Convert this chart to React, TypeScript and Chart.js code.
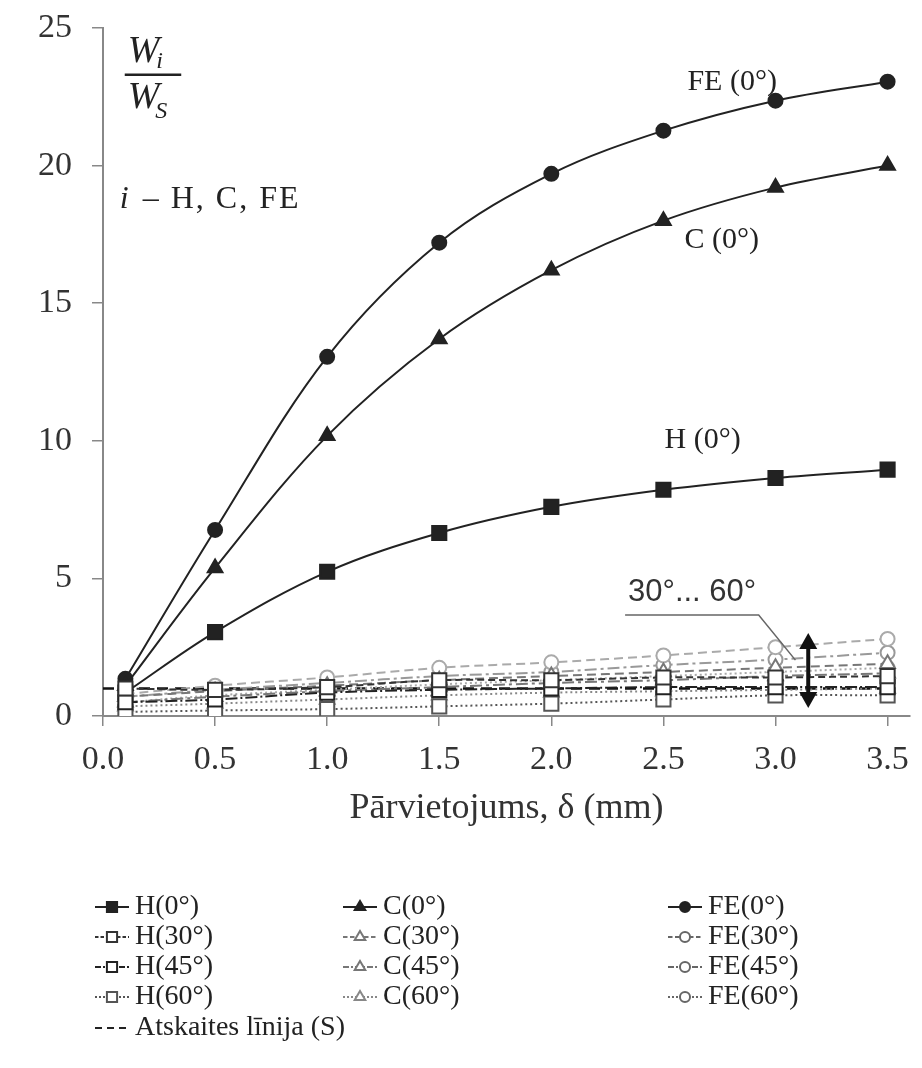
import React, { useEffect, useRef } from "react";
import { Chart, registerables } from "chart.js";

Chart.register(...registerables);

// ---- data ----
const xValues = [0.1, 0.5, 1.0, 1.5, 2.0, 2.5, 3.0, 3.5];
const xTickLabels = ["0.0", "0.5", "1.0", "1.5", "2.0", "2.5", "3.0", "3.5"];
const yTickValues = [0, 5, 10, 15, 20, 25];

const h0 = [0.85, 3.05, 5.24, 6.65, 7.6, 8.22, 8.65, 8.95];
const h30 = [1.0, 0.95, 1.05, 1.3, 1.3, 1.4, 1.4, 1.45];
const h45 = [0.5, 0.6, 0.85, 0.95, 1.0, 1.05, 1.05, 1.05];
const h60 = [0.15, 0.2, 0.25, 0.35, 0.45, 0.6, 0.75, 0.75];

const c0 = [1.1, 5.38, 10.18, 13.7, 16.2, 18.0, 19.2, 20.0];
const c30 = [0.7, 0.9, 1.1, 1.3, 1.45, 1.6, 1.75, 1.9];
const c45 = [0.5, 0.7, 0.9, 1.05, 1.2, 1.3, 1.45, 1.55];
const c60 = [0.35, 0.45, 0.6, 0.75, 0.85, 0.9, 0.95, 1.0];

const fe0 = [1.35, 6.76, 13.05, 17.2, 19.7, 21.27, 22.36, 23.05];
const fe30 = [0.8, 1.1, 1.4, 1.75, 1.95, 2.2, 2.5, 2.8];
const fe45 = [0.7, 0.95, 1.2, 1.45, 1.6, 1.85, 2.05, 2.3];
const fe60 = [0.5, 0.75, 0.95, 1.15, 1.3, 1.45, 1.6, 1.75];

const refX = [0, 3.5];
const refY = [1, 1];

const xTitle = "Pārvietojums, δ (mm)";

// ---- series styling ----
type Series = {
  label: string;
  values: number[];
  color: string;
  dash: number[];
  shape: "rect" | "triangle" | "circle";
  filled: boolean;
  col: number;
  row: number;
  width: number;
};

const series: Series[] = [
  { label: "H(0°)", values: h0, color: "#222", dash: [], shape: "rect", filled: true, col: 0, row: 0, width: 2 },
  { label: "H(30°)", values: h30, color: "#333", dash: [7, 4], shape: "rect", filled: false, col: 0, row: 1, width: 2 },
  { label: "H(45°)", values: h45, color: "#222", dash: [12, 3, 2, 3], shape: "rect", filled: false, col: 0, row: 2, width: 2 },
  { label: "H(60°)", values: h60, color: "#555", dash: [2, 3], shape: "rect", filled: false, col: 0, row: 3, width: 2 },
  { label: "C(0°)", values: c0, color: "#222", dash: [], shape: "triangle", filled: true, col: 1, row: 0, width: 2 },
  { label: "C(30°)", values: c30, color: "#777", dash: [9, 5], shape: "triangle", filled: false, col: 1, row: 1, width: 2 },
  { label: "C(45°)", values: c45, color: "#777", dash: [12, 4, 3, 4], shape: "triangle", filled: false, col: 1, row: 2, width: 2 },
  { label: "C(60°)", values: c60, color: "#888", dash: [2, 3], shape: "triangle", filled: false, col: 1, row: 3, width: 2 },
  { label: "FE(0°)", values: fe0, color: "#222", dash: [], shape: "circle", filled: true, col: 2, row: 0, width: 2 },
  { label: "FE(30°)", values: fe30, color: "#aaa", dash: [9, 5], shape: "circle", filled: false, col: 2, row: 1, width: 2 },
  { label: "FE(45°)", values: fe45, color: "#999", dash: [12, 4, 3, 4], shape: "circle", filled: false, col: 2, row: 2, width: 2 },
  { label: "FE(60°)", values: fe60, color: "#aaa", dash: [2, 3], shape: "circle", filled: false, col: 2, row: 3, width: 2 },
];

const refLabel = "Atskaites līnija (S)";

// annotation labels in data units
const curveLabels = [
  { text: "FE (0°)", x: 2.607, y: 23.04 },
  { text: "C (0°)", x: 2.594, y: 17.3 },
  { text: "H (0°)", x: 2.505, y: 10.03 },
];
const rangeLabel = { text: "30°... 60°", x: 2.342, y: 4.5 };
const leaderX = [2.329, 2.925, 3.089];
const leaderY = [3.67, 3.67, 2.03];
const arrowX = 3.146;
const arrowY = [3.02, 0.29];

const legendColX = [95, 343, 668];
const legendRowY = [907, 937, 967, 997, 1028];

const SERIF = "'Liberation Serif', 'Times New Roman', serif";
const SANS = "'Liberation Sans', Arial, sans-serif";

const pointRadius = { rect: 10, triangle: 8.5, circle: 7 };

function drawMarker(ctx: CanvasRenderingContext2D, shape: string, cx: number, cy: number, r: number, color: string, filled: boolean) {
  ctx.save();
  ctx.setLineDash([]);
  ctx.lineWidth = 2;
  ctx.strokeStyle = color;
  ctx.fillStyle = filled ? color : "#fff";
  ctx.beginPath();
  if (shape === "rect") {
    const s = r * Math.SQRT1_2;
    ctx.rect(cx - s, cy - s, 2 * s, 2 * s);
  } else if (shape === "triangle") {
    ctx.moveTo(cx, cy - r);
    ctx.lineTo(cx + r * 0.866, cy + r * 0.5);
    ctx.lineTo(cx - r * 0.866, cy + r * 0.5);
    ctx.closePath();
  } else {
    ctx.arc(cx, cy, r, 0, Math.PI * 2);
  }
  ctx.fill();
  ctx.stroke();
  ctx.restore();
}

const whiteBg = {
  id: "whiteBg",
  beforeDraw(chart: any) {
    const { ctx, width, height } = chart;
    ctx.save();
    ctx.fillStyle = "#fff";
    ctx.fillRect(0, 0, width, height);
    ctx.restore();
  },
};

const annotations = {
  id: "annotations",
  afterDraw(chart: any) {
    const { ctx } = chart;
    const xs = chart.scales.x;
    const ys = chart.scales.y;
    const px = (v: number) => xs.getPixelForValue(v);
    const py = (v: number) => ys.getPixelForValue(v);
    ctx.save();
    ctx.fillStyle = "#222";
    ctx.textBaseline = "middle";
    ctx.textAlign = "left";

    // curve labels
    ctx.font = `30px ${SERIF}`;
    curveLabels.forEach((l) => ctx.fillText(l.text, px(l.x), py(l.y)));

    // fraction W_i / W_S
    const fx = px(0.11);
    ctx.font = `italic 38px ${SERIF}`;
    ctx.fillText("W", fx, py(24.13));
    const wWidth = ctx.measureText("W").width;
    ctx.font = `italic 24px ${SERIF}`;
    ctx.fillText("i", fx + wWidth - 3, py(24.13) + 10);
    ctx.font = `italic 38px ${SERIF}`;
    ctx.fillText("W", fx, py(22.46));
    ctx.font = `italic 24px ${SERIF}`;
    ctx.fillText("S", fx + wWidth - 4, py(22.46) + 14);
    ctx.strokeStyle = "#222";
    ctx.lineWidth = 2.5;
    ctx.beginPath();
    ctx.moveTo(px(0.097), py(23.3));
    ctx.lineTo(px(0.349), py(23.3));
    ctx.stroke();

    // i – H, C, FE
    ctx.font = `italic 32px ${SERIF}`;
    const iy = py(18.75);
    let ix = px(0.075);
    ctx.fillText("i", ix, iy);
    ix += ctx.measureText("i").width + 14;
    ctx.font = `32px ${SERIF}`;
    (ctx as any).letterSpacing = "2px";
    ctx.fillText("– H, C, FE", ix, iy);
    (ctx as any).letterSpacing = "0px";

    // range label + leader
    ctx.font = `31px ${SANS}`;
    ctx.fillStyle = "#333";
    ctx.fillText(rangeLabel.text, px(rangeLabel.x), py(rangeLabel.y));
    ctx.strokeStyle = "#666";
    ctx.lineWidth = 1.5;
    ctx.beginPath();
    leaderX.forEach((v, i) => {
      if (i === 0) ctx.moveTo(px(v), py(leaderY[i]));
      else ctx.lineTo(px(v), py(leaderY[i]));
    });
    ctx.stroke();

    // double arrow
    const ax = px(arrowX);
    const aTop = py(arrowY[0]);
    const aBot = py(arrowY[1]);
    ctx.strokeStyle = "#111";
    ctx.fillStyle = "#111";
    ctx.lineWidth = 4;
    ctx.beginPath();
    ctx.moveTo(ax, aTop + 12);
    ctx.lineTo(ax, aBot - 12);
    ctx.stroke();
    ctx.beginPath();
    ctx.moveTo(ax, aTop);
    ctx.lineTo(ax - 9, aTop + 16);
    ctx.lineTo(ax + 9, aTop + 16);
    ctx.closePath();
    ctx.fill();
    ctx.beginPath();
    ctx.moveTo(ax, aBot);
    ctx.lineTo(ax - 9, aBot - 16);
    ctx.lineTo(ax + 9, aBot - 16);
    ctx.closePath();
    ctx.fill();

    // legend
    ctx.textBaseline = "middle";
    ctx.font = `28px ${SERIF}`;
    const drawSample = (x0: number, y: number, color: string, dash: number[]) => {
      ctx.save();
      ctx.strokeStyle = color;
      ctx.lineWidth = 2;
      ctx.setLineDash(dash);
      ctx.beginPath();
      ctx.moveTo(x0, y);
      ctx.lineTo(x0 + 34, y);
      ctx.stroke();
      ctx.restore();
    };
    series.forEach((s) => {
      const x0 = legendColX[s.col];
      const y = legendRowY[s.row];
      const lc = s.color === "#aaa" || s.color === "#999" ? "#666" : s.color;
      const legendDash = s.dash.length ? s.dash.map((d) => Math.max(2, d * 0.5)) : [];
      drawSample(x0, y, lc, legendDash);
      drawMarker(ctx, s.shape, x0 + 17, y, pointRadius[s.shape] * 0.72, lc, s.filled);
      ctx.fillStyle = "#222";
      ctx.fillText(s.label, x0 + 40, y);
    });
    const ry = legendRowY[4];
    drawSample(legendColX[0], ry, "#222", [7, 5]);
    ctx.fillStyle = "#222";
    ctx.fillText(refLabel, legendColX[0] + 40, ry);

    ctx.restore();
  },
};

export default function App() {
  const ref = useRef<HTMLCanvasElement>(null);
  useEffect(() => {
    const datasets: any[] = series.map((s) => ({
      label: s.label,
      data: xValues.map((x, i) => ({ x, y: s.values[i] })),
      borderColor: s.color,
      borderWidth: s.width,
      borderDash: s.dash,
      backgroundColor: s.filled ? s.color : "#fff",
      pointBackgroundColor: s.filled ? s.color : "#fff",
      pointBorderColor: s.color,
      pointBorderWidth: 2,
      pointStyle: s.shape,
      pointRadius: pointRadius[s.shape],
      tension: 0.35,
      fill: false,
    }));
    datasets.push({
      label: refLabel,
      data: refX.map((x, i) => ({ x, y: refY[i] })),
      borderColor: "#111",
      borderWidth: 2.5,
      borderDash: [11, 7],
      pointRadius: 0,
      fill: false,
    });
    const main = ["H(0°)", "C(0°)", "FE(0°)"];
    const ordered = [
      ...datasets.filter((d) => !main.includes(d.label)),
      ...datasets.filter((d) => main.includes(d.label)),
    ];

    const chart = new Chart(ref.current as HTMLCanvasElement, {
      type: "line",
      data: { datasets: ordered },
      options: {
        responsive: false,
        animation: false,
        devicePixelRatio: 1,
        layout: { padding: { top: 28, right: 4, left: 0, bottom: 238 } },
        plugins: { legend: { display: false }, tooltip: { enabled: false } },
        scales: {
          x: {
            type: "linear",
            min: 0,
            max: 3.6,
            afterFit: (s: any) => {
              s.height = 114;
              s.paddingLeft = 0;
              s.paddingRight = 0;
            },
            afterBuildTicks: (s: any) => {
              s.ticks = xTickLabels.map((_, i) => ({ value: i * 0.5 }));
            },
            ticks: {
              includeBounds: false,
              stepSize: 0.5,
              maxRotation: 0,
              autoSkip: false,
              padding: 14,
              color: "#333",
              font: { family: SERIF, size: 34 },
              callback: (_v: any, i: number) => xTickLabels[i],
            },
            grid: { drawOnChartArea: false, drawTicks: true, tickLength: 10, color: "#888", lineWidth: 1.5 },
            border: { display: true, color: "#888", width: 2 },
            title: {
              display: true,
              text: xTitle,
              color: "#333",
              font: { family: SERIF, size: 36 },
              padding: { top: 4, bottom: 0 },
            },
          },
          y: {
            type: "linear",
            min: 0,
            max: 25,
            afterFit: (s: any) => {
              s.width = 103;
              s.paddingTop = 0;
              s.paddingBottom = 0;
            },
            afterBuildTicks: (s: any) => {
              s.ticks = yTickValues.map((v) => ({ value: v }));
            },
            ticks: {
              stepSize: 5,
              padding: 20,
              color: "#333",
              font: { family: SERIF, size: 34 },
            },
            grid: { drawOnChartArea: false, drawTicks: true, tickLength: 11, color: "#888", lineWidth: 1.5 },
            border: { display: true, color: "#888", width: 2 },
          },
        },
      },
      plugins: [whiteBg, annotations],
    } as any);
    return () => chart.destroy();
  }, []);

  return (
    <div style={{ position: "fixed", left: 0, top: 0, width: 922, height: 1068, background: "#fff" }}>
      <canvas ref={ref} width={922} height={1068} style={{ display: "block", width: 922, height: 1068 }} />
    </div>
  );
}
